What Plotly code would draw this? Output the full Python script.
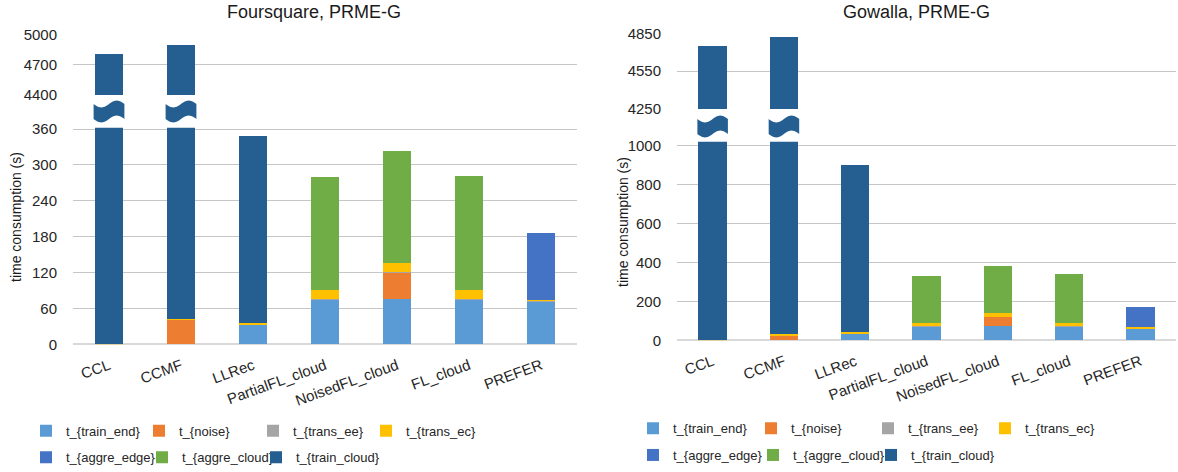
import plotly.graph_objects as go
import numpy as np

W, H = 1178, 472

categories = ["CCL", "CCMF", "LLRec", "PartialFL_cloud", "NoisedFL_cloud", "FL_cloud", "PREFER"]
series_names = ["t_{train_end}", "t_{noise}", "t_{trans_ee}", "t_{trans_ec}",
                "t_{aggre_edge}", "t_{aggre_cloud}", "t_{train_cloud}"]
colors = ["#5B9BD5", "#ED7D31", "#A5A5A5", "#FFC000", "#4472C4", "#70AD47", "#255E91"]

# Foursquare, PRME-G
fs_train_end   = [0, 0, 33, 75, 75, 75, 72.5]
fs_noise       = [0, 41, 0, 0, 45, 0, 0]
fs_trans_ee    = [0, 0, 0, 0.5, 0.5, 0.5, 0.5]
fs_trans_ec    = [1, 1.5, 2, 15, 15, 15, 1.5]
fs_aggre_edge  = [0, 0, 0, 0, 0, 0, 111.5]
fs_aggre_cloud = [0, 0, 0, 188.5, 187.5, 190.5, 0]
fs_train_cloud = [4804, 4852.5, 313, 0, 0, 0, 0]

# Gowalla, PRME-G
gw_train_end   = [0, 0, 38, 73, 73, 73, 60]
gw_noise       = [0, 28, 0, 0, 48, 0, 0]
gw_trans_ee    = [0, 0, 0, 0.5, 0.5, 0.5, 0.5]
gw_trans_ec    = [2, 2, 3, 13.5, 18.5, 13.5, 6.5]
gw_aggre_edge  = [0, 0, 0, 0, 0, 0, 104]
gw_aggre_cloud = [0, 0, 0, 243, 243, 252, 0]
gw_train_cloud = [4747, 4791, 859, 0, 0, 0, 0]

fs_series = [fs_train_end, fs_noise, fs_trans_ee, fs_trans_ec, fs_aggre_edge, fs_aggre_cloud, fs_train_cloud]
gw_series = [gw_train_end, gw_noise, gw_trans_ee, gw_trans_ec, gw_aggre_edge, gw_aggre_cloud, gw_train_cloud]

# axis ranges (broken axes)
fs_low_range, fs_up_range = [0, 362], [4399, 5002]
gw_low_range, gw_up_range = [0, 1020], [4248, 4852]
fs_low_ticks = dict(tick0=0, dtick=60)
fs_up_ticks = dict(tick0=4400, dtick=300)
gw_low_ticks = dict(tick0=0, dtick=200)
gw_up_ticks = dict(tick0=4250, dtick=300)

FONT = "Liberation Sans, Arial, sans-serif"

def px_x(p):
    return p / W

def px_y(p):
    return 1 - p / H

# legend layout (pixel x of each entry's left edge, row centres)
legend_x = [[26, 139, 253, 366, 26, 142, 256],
            [633, 751, 868, 985, 633, 753, 871]]
legend_row_y = [[430.7, 457.3], [428.3, 455]]

fig = go.Figure()

legend_layouts = {}
for si, (series, xa, ylow, yup) in enumerate([(fs_series, "x", "y", "y2"), (gw_series, "x2", "y3", "y4")]):
    for i, (name, vals) in enumerate(zip(series_names, series)):
        k = si * 7 + i + 1
        leg = "legend" if k == 1 else f"legend{k}"
        legend_layouts[leg] = dict(
            x=px_x(legend_x[si][i]), y=px_y(legend_row_y[si][0 if i < 4 else 1]),
            xanchor="left", yanchor="middle", orientation="h",
            font=dict(family=FONT, size=13, color="#262626"),
            bgcolor="rgba(0,0,0,0)", itemwidth=30)
        for ya, show in [(ylow, True), (yup, False)]:
            fig.add_trace(go.Bar(
                x=categories, y=vals, name=name, xaxis=xa, yaxis=ya,
                marker=dict(color=colors[i], line=dict(width=0)),
                showlegend=show, legend=leg, legendgroup=f"{si}-{i}",
                hovertemplate="%{x}: %{y}<extra>" + name + "</extra>",
            ))

axis_common = dict(showgrid=True, gridcolor="#C6C6C6", gridwidth=1,
                   tickfont=dict(family=FONT, size=15, color="#262626"),
                   ticks="outside", ticklen=12, tickcolor="rgba(0,0,0,0)",
                   showline=False, fixedrange=True, automargin=False)
xaxis_common = dict(showgrid=False, showline=False, ticks="", tickangle=-20,
                    ticklabelstandoff=9, automargin=False,
                    tickfont=dict(family=FONT, size=15, color="#262626"), fixedrange=True)

fig.update_layout(
    width=W, height=H, barmode="stack", bargap=0.6,
    margin=dict(l=0, r=0, t=0, b=0, autoexpand=False),
    paper_bgcolor="white", plot_bgcolor="white",
    font=dict(family=FONT, color="#262626"),
    xaxis=dict(domain=[px_x(73), px_x(577)], anchor="y", **xaxis_common),
    yaxis=dict(domain=[px_y(344.3), px_y(127.8)], range=fs_low_range, anchor="x",
               zeroline=True, zerolinecolor="#D9D9D9", zerolinewidth=2,
               tickmode="linear", **fs_low_ticks, **axis_common),
    yaxis2=dict(domain=[px_y(95.1), px_y(34.5)], range=fs_up_range, anchor="x",
                zeroline=False, tickmode="linear", **fs_up_ticks, **axis_common),
    xaxis2=dict(domain=[px_x(677), px_x(1176)], anchor="y3", **xaxis_common),
    yaxis3=dict(domain=[px_y(340.3), px_y(141.8)], range=gw_low_range, anchor="x2",
                zeroline=True, zerolinecolor="#D9D9D9", zerolinewidth=2,
                tickmode="linear", **gw_low_ticks, **axis_common),
    yaxis4=dict(domain=[px_y(109.0), px_y(33.05)], range=gw_up_range, anchor="x2",
                zeroline=False, tickmode="linear", **gw_up_ticks, **axis_common),
    **legend_layouts,
)

# titles and y-axis titles
annos = [
    dict(text="Foursquare, PRME-G", x=px_x(314), y=px_y(12), font=dict(size=18, family=FONT, color="#1a1a1a")),
    dict(text="Gowalla, PRME-G", x=px_x(916), y=px_y(12), font=dict(size=18, family=FONT, color="#1a1a1a")),
    dict(text="time consumption (s)", x=px_x(16), y=px_y(217), textangle=-90,
         font=dict(size=14, family=FONT, color="#1a1a1a")),
    dict(text="time consumption (s)", x=px_x(623), y=px_y(222), textangle=-90,
         font=dict(size=14, family=FONT, color="#1a1a1a")),
]
for a in annos:
    fig.add_annotation(xref="paper", yref="paper", showarrow=False,
                       xanchor="center", yanchor="middle", **a)

# axis-break wave symbols over the tall bars
def wave_path(xc, half_w, top, bot, amp):
    t = np.linspace(0, 1, 25)
    xs = xc - half_w + 2 * half_w * t
    ytop = top + amp * np.sin(2 * np.pi * t)
    ybot = bot + amp * np.sin(2 * np.pi * t)
    pts = [(x, y) for x, y in zip(xs, ytop)] + [(x, y) for x, y in zip(xs[::-1], ybot[::-1])]
    d = "M " + " L ".join(f"{px_x(x):.5f},{px_y(y):.5f}" for x, y in pts) + " Z"
    return d

def cat_center(dom_l, dom_r, idx, n):
    return dom_l + (dom_r - dom_l) * (idx + 0.5) / n

n = len(categories)
for (dl, dr, top, bot) in [(73, 577, 104, 119), (677, 1176, 119, 134)]:
    for idx in [0, 1]:
        xc = cat_center(dl, dr, idx, n)
        bw = (dr - dl) / n * 0.4
        fig.add_shape(type="path", xref="paper", yref="paper",
                      path=wave_path(xc, bw / 2 + 1.0, top, bot, 3.4),
                      fillcolor="#255E91", line=dict(width=0), layer="above")

fig.write_html("out.html", config={"displayModeBar": False},
               post_script="document.body.style.margin='0px';document.body.style.overflow='hidden';")
